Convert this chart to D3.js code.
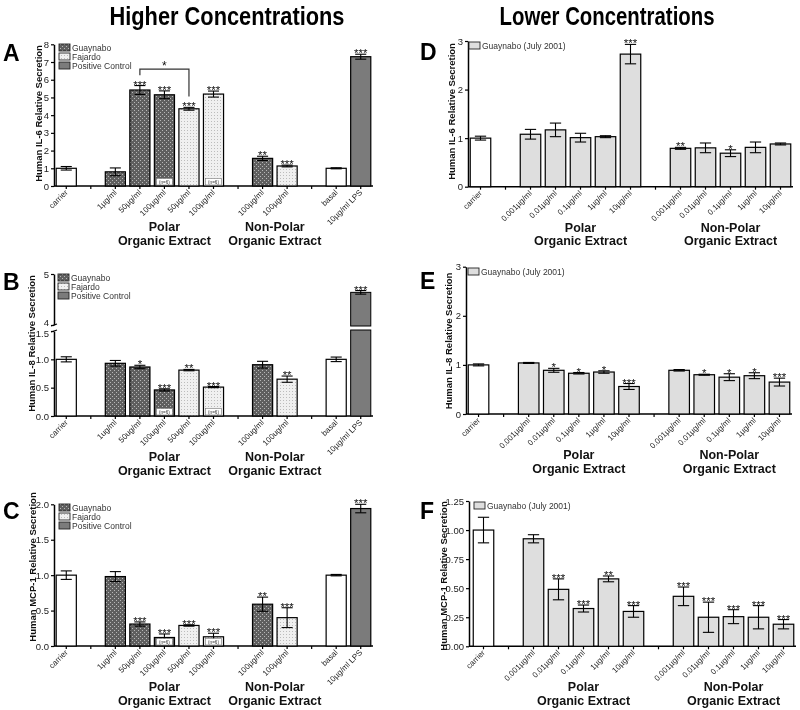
<!DOCTYPE html>
<html><head><meta charset="utf-8">
<script src="https://cdn.jsdelivr.net/npm/d3@7"></script>
<style>
body{margin:0;background:#fff}
svg{display:block;will-change:transform}
text{font-family:"Liberation Sans",Arial,Helvetica,sans-serif}
</style>
</head><body>
<svg id="c" width="800" height="710"></svg>
<script>
// ---------------- DATA ----------------
const highTypes = ["carrier","","G","G","G","F","F","","G","F","","basal","LPS"];
const highLabels = ["carrier","","1µg/ml","50µg/ml","100µg/ml","50µg/ml","100µg/ml","","100µg/ml","100µg/ml","","basal","10µg/ml LPS"];
const highLabelsB = ["carrier","","1ug/ml","50ug/ml","100ug/ml","50ug/ml","100ug/ml","","100ug/ml","100ug/ml","","basal","10µg/ml LPS"];
const lowTypes = ["carrier","","L","L","L","L","L","","L","L","L","L","L"];
const lowLabels = ["carrier","","0.001µg/ml","0.01µg/ml","0.1µg/ml","1µg/ml","10µg/ml","","0.001µg/ml","0.01µg/ml","0.1µg/ml","1µg/ml","10µg/ml"];

const il6HighVals = [1.0,null,0.80,5.42,5.15,4.36,5.19,null,1.56,1.13,null,1.0,7.30];
const il6HighErrs = [0.10,null,0.22,0.25,0.22,0.08,0.17,null,0.12,0.05,null,0.03,0.14];
const il6HighSig  = ["","","","***","***","***","***","","**","***","","","***"];

const il8HighVals = [1.0,null,0.93,0.865,0.46,0.81,0.51,null,0.905,0.65,null,1.0,4.64];
const il8HighErrs = [0.045,null,0.05,0.03,0.02,0.012,0.01,null,0.06,0.055,null,0.04,0.035];
const il8HighSig  = ["","","","*","***","**","***","","","**","","","***"];

const mcpHighVals = [1.0,null,0.98,0.31,0.12,0.29,0.13,null,0.59,0.40,null,1.0,1.94];
const mcpHighErrs = [0.06,null,0.07,0.03,0.05,0.01,0.05,null,0.10,0.14,null,0.01,0.06];
const mcpHighSig  = ["","","","***","***","***","***","","**","***","","","***"];

const il6LowVals = [1.0,null,1.08,1.17,1.01,1.03,2.73,null,0.79,0.80,0.69,0.81,0.88];
const il6LowErrs = [0.04,null,0.10,0.14,0.09,0.02,0.20,null,0.02,0.10,0.07,0.11,0.02];
const il6LowSig  = ["","","","","","","***","","**","","*","",""];

const il8LowVals = [1.0,null,1.04,0.89,0.83,0.855,0.56,null,0.89,0.80,0.75,0.78,0.65];
const il8LowErrs = [0.02,null,0.01,0.04,0.015,0.025,0.06,null,0.015,0.01,0.07,0.06,0.08];
const il8LowSig  = ["","","","*","*","*","***","","","*","*","*","***"];

const mcpLowVals = [1.0,null,0.925,0.49,0.325,0.58,0.30,null,0.43,0.25,0.255,0.25,0.19];
const mcpLowErrs = [0.11,null,0.035,0.09,0.03,0.025,0.05,null,0.08,0.13,0.06,0.10,0.04];
const mcpLowSig  = ["","","","***","***","**","***","","***","***","***","***","***"];

const nSixIdx = [4,6];
const il6Bracket = {from:3, to:5, level:6.6, leftEnd:6.25, rightEnd:5.05, label:"*"};
const highLegend = [["G","Guaynabo"],["F","Fajardo"],["LPS","Positive Control"]];
const lowLegend = [["L","Guaynabo (July 2001)"]];
const groupNames = [["Polar","Organic Extract"],["Non-Polar","Organic Extract"]];
const titles = ["Higher Concentrations","Lower Concentrations"];

// ---------------- DRAW ----------------
const svg = d3.select("#c");
const defs = svg.append("defs");
const pG = defs.append("pattern").attr("id","pG").attr("width",4).attr("height",4).attr("patternUnits","userSpaceOnUse");
pG.append("rect").attr("width",4).attr("height",4).attr("fill","#5f5f5f");
pG.append("rect").attr("x",0).attr("y",0).attr("width",1).attr("height",1).attr("fill","#b8b8b8");
pG.append("rect").attr("x",2).attr("y",2).attr("width",1).attr("height",1).attr("fill","#b8b8b8");
const pF = defs.append("pattern").attr("id","pF").attr("width",3).attr("height",3).attr("patternUnits","userSpaceOnUse");
pF.append("rect").attr("width",3).attr("height",3).attr("fill","#f0f0f0");
pF.append("rect").attr("x",1).attr("y",1).attr("width",1).attr("height",1).attr("fill","#bcbcbc");

const fills = {carrier:"#fff", basal:"#fff", G:"url(#pG)", F:"url(#pF)", LPS:"#7b7b7b", L:"#dedede"};

svg.append("text").attr("x",227).attr("y",25).attr("text-anchor","middle")
  .attr("font-size",26).attr("font-weight","bold").attr("textLength",235).attr("lengthAdjust","spacingAndGlyphs").text(titles[0]);
svg.append("text").attr("x",607).attr("y",25).attr("text-anchor","middle")
  .attr("font-size",26).attr("font-weight","bold").attr("textLength",215).attr("lengthAdjust","spacingAndGlyphs").text(titles[1]);

function drawPanel(p){
  const g = svg.append("g");
  const n = p.labels.length;
  const x = d3.scaleBand().domain(d3.range(n)).range([p.bx0,p.bx1]).paddingInner(0.18).paddingOuter(0.09);
  const bw = x.bandwidth();
  const cx = i => x(i)+bw/2;
  let y;
  if(p.broken){
    const yl = d3.scaleLinear().domain([0,1.5]).range([p.y0,p.lowTop]);
    const yh = d3.scaleLinear().domain([4,5]).range([p.highBot,p.yTop]);
    y = v => v <= 2 ? yl(v) : yh(v);
    const gl = g.append("g").attr("transform",`translate(${p.axisX},0)`)
      .call(d3.axisLeft(yl).tickValues([0,0.5,1.0,1.5]).tickFormat(d3.format(".1f")).tickSize(3).tickSizeOuter(0).tickPadding(2));
    gl.selectAll(".tick text").filter(d=>d===1.5).attr("dy","0.55em");
    const gh = g.append("g").attr("transform",`translate(${p.axisX},0)`)
      .call(d3.axisLeft(yh).tickValues([4,5]).tickFormat(d3.format("d")).tickSize(3).tickSizeOuter(0).tickPadding(2));
    gh.selectAll(".tick text").filter(d=>d===4).attr("dy","0.05em");
    [p.lowTop, p.highBot].forEach(yy=>{
      g.append("line").attr("x1",p.axisX-3).attr("x2",p.axisX+3).attr("y1",yy+1).attr("y2",yy-1)
        .attr("stroke","#000").attr("stroke-width",1.2);
    });
  } else {
    const ys = d3.scaleLinear().domain([0,p.max]).range([p.y0,p.yTop]);
    y = ys;
    g.append("g").attr("transform",`translate(${p.axisX},0)`)
      .call(d3.axisLeft(ys).tickValues(p.ticks).tickFormat(p.fmt).tickSize(3).tickSizeOuter(0).tickPadding(2));
  }
  g.selectAll(".domain").attr("stroke","#000").attr("stroke-width",1.5);
  g.selectAll(".tick line").attr("stroke","#000").attr("stroke-width",1.2);
  g.selectAll(".tick text").attr("font-size",9.5).attr("fill","#222").attr("font-family","Liberation Sans, Arial, sans-serif");

  const xa = g.append("g").attr("transform",`translate(0,${p.y0})`)
    .call(d3.axisBottom(x).tickSize(3).tickSizeOuter(0).tickFormat(""));
  xa.select(".domain").remove();
  xa.selectAll(".tick line").attr("stroke","#000").attr("stroke-width",1.2);
  g.append("line").attr("x1",p.axisX).attr("x2",p.bx1).attr("y1",p.y0).attr("y2",p.y0)
    .attr("stroke","#000").attr("stroke-width",1.5);
  p.labels.forEach((l,i)=>{
    if(!l) return;
    g.append("text").attr("transform",`translate(${cx(i)+2},${p.y0+7}) rotate(-45)`)
      .attr("text-anchor","end").attr("font-size",8).attr("fill","#222").text(l);
  });

  p.vals.forEach((v,i)=>{
    if(v==null) return;
    const t = p.types[i];
    if(p.broken && v>2){
      g.append("rect").attr("x",x(i)).attr("width",bw).attr("y",p.lowTop-1).attr("height",p.y0-p.lowTop+1)
        .attr("fill",fills[t]).attr("stroke","#000").attr("stroke-width",1);
      g.append("rect").attr("x",x(i)).attr("width",bw).attr("y",y(v)).attr("height",p.highBot+1-y(v))
        .attr("fill",fills[t]).attr("stroke","#000").attr("stroke-width",1);
    } else {
      g.append("rect").attr("x",x(i)).attr("width",bw).attr("y",y(v)).attr("height",p.y0-y(v))
        .attr("fill",fills[t]).attr("stroke","#000").attr("stroke-width",1.2);
    }
    const e = p.errs[i];
    const cw = bw*0.55;
    const yt = y(v+e), yb = y(v-e);
    g.append("line").attr("x1",cx(i)).attr("x2",cx(i)).attr("y1",yt).attr("y2",yb).attr("stroke","#000").attr("stroke-width",1.1);
    [yt,yb].forEach(yy=>g.append("line").attr("x1",cx(i)-cw/2).attr("x2",cx(i)+cw/2).attr("y1",yy).attr("y2",yy).attr("stroke","#000").attr("stroke-width",1.1));
    if(p.sigs[i]){
      g.append("text").attr("x",cx(i)).attr("y",yt+3).attr("text-anchor","middle")
        .attr("font-size",11.5).attr("fill","#111").text(p.sigs[i]);
    }
  });

  if(p.nSix){
    p.nSix.forEach(i=>{
      g.append("rect").attr("x",x(i)+2).attr("width",bw-4).attr("y",p.y0-7.5).attr("height",6.5)
        .attr("fill","#fff").attr("stroke","#777").attr("stroke-width",0.6);
      g.append("text").attr("x",cx(i)).attr("y",p.y0-2.4).attr("text-anchor","middle")
        .attr("font-size",4.6).attr("fill","#333").text("(n=6)");
    });
  }

  if(p.bracket){
    const b = p.bracket;
    const x1 = cx(b.from), x2 = cx(b.to);
    g.append("path").attr("d",`M${x1},${y(b.leftEnd)}V${y(b.level)}H${x2}V${y(b.rightEnd)}`)
      .attr("fill","none").attr("stroke","#333").attr("stroke-width",1.2);
    g.append("text").attr("x",(x1+x2)/2).attr("y",y(b.level)+1).attr("text-anchor","middle")
      .attr("font-size",12).attr("fill","#111").text(b.label);
  }

  p.legend.forEach((d,k)=>{
    const ly = p.legY + k*9;
    g.append("rect").attr("x",p.legX).attr("y",ly).attr("width",11).attr("height",7)
      .attr("fill",fills[d[0]]).attr("stroke","#222").attr("stroke-width",0.9);
    g.append("text").attr("x",p.legX+13).attr("y",ly+6.5).attr("font-size",8.5).attr("fill","#333").text(d[1]);
  });

  p.groups.forEach((gr,k)=>{
    const xc = (cx(gr[0])+cx(gr[1]))/2;
    g.append("text").attr("x",xc).attr("y",p.y0+45).attr("text-anchor","middle").attr("font-size",12.5)
      .attr("font-weight","bold").attr("fill","#111").text(groupNames[k][0]);
    g.append("text").attr("x",xc).attr("y",p.y0+58.5).attr("text-anchor","middle").attr("font-size",12.5)
      .attr("font-weight","bold").attr("fill","#111").text(groupNames[k][1]);
  });

  g.append("text").attr("transform",`translate(${p.ylabX},${p.ylabY}) rotate(-90)`).attr("text-anchor","middle")
    .attr("font-size",9.5).attr("font-weight","bold").attr("fill","#111").text(p.ylab);
  g.append("text").attr("x",p.letter[0]).attr("y",p.letter[1]).attr("font-size",23).attr("font-weight","bold").text(p.id);
}

const highGroups = [[2,6],[8,9]];
const lowGroups = [[2,6],[8,12]];

drawPanel({id:"A", vals:il6HighVals, errs:il6HighErrs, sigs:il6HighSig, labels:highLabels, types:highTypes,
  axisX:54, bx0:54, bx1:373, y0:186, yTop:44.3, max:8, ticks:d3.range(0,9), fmt:d3.format("d"),
  letter:[3,61], ylab:"Human IL-6 Relative Secretion", ylabX:42, ylabY:113.5,
  legend:highLegend, legX:59, legY:44, nSix:nSixIdx, groups:highGroups, bracket:il6Bracket});

drawPanel({id:"B", vals:il8HighVals, errs:il8HighErrs, sigs:il8HighSig, labels:highLabelsB, types:highTypes,
  axisX:54, bx0:54, bx1:373, y0:416, lowTop:331, highBot:325, yTop:274, broken:true,
  letter:[3,290], ylab:"Human IL-8 Relative Secretion", ylabX:35, ylabY:343.5,
  legend:highLegend, legX:58, legY:274, nSix:nSixIdx, groups:highGroups});

drawPanel({id:"C", vals:mcpHighVals, errs:mcpHighErrs, sigs:mcpHighSig, labels:highLabels, types:highTypes,
  axisX:54, bx0:54, bx1:373, y0:646, yTop:504.3, max:2, ticks:[0,0.5,1,1.5,2], fmt:d3.format(".1f"),
  letter:[3,519], ylab:"Human MCP-1 Relative Secretion", ylabX:36, ylabY:567,
  legend:highLegend, legX:59, legY:504, nSix:nSixIdx, groups:highGroups});

drawPanel({id:"D", vals:il6LowVals, errs:il6LowErrs, sigs:il6LowSig, labels:lowLabels, types:lowTypes,
  axisX:468, bx0:468, bx1:793, y0:186.7, yTop:41, max:3, ticks:[0,1,2,3], fmt:d3.format("d"),
  letter:[420,60], ylab:"Human IL-6 Relative Secretion", ylabX:455, ylabY:111.5,
  legend:lowLegend, legX:469, legY:42, groups:lowGroups});

drawPanel({id:"E", vals:il8LowVals, errs:il8LowErrs, sigs:il8LowSig, labels:lowLabels, types:lowTypes,
  axisX:466, bx0:466, bx1:792, y0:414, yTop:266.7, max:3, ticks:[0,1,2,3], fmt:d3.format("d"),
  letter:[420,289], ylab:"Human IL-8 Relative Secretion", ylabX:452, ylabY:341,
  legend:lowLegend, legX:468, legY:268, groups:lowGroups});

drawPanel({id:"F", vals:mcpLowVals, errs:mcpLowErrs, sigs:mcpLowSig, labels:lowLabels, types:lowTypes,
  axisX:469, bx0:471, bx1:796, y0:646.3, yTop:501, max:1.25, ticks:[0,0.25,0.5,0.75,1,1.25], fmt:d3.format(".2f"),
  letter:[420,519], ylab:"Human MCP-1 Relative Secretion", ylabX:447, ylabY:576,
  legend:lowLegend, legX:474, legY:502, groups:lowGroups});
</script>
</body></html>
